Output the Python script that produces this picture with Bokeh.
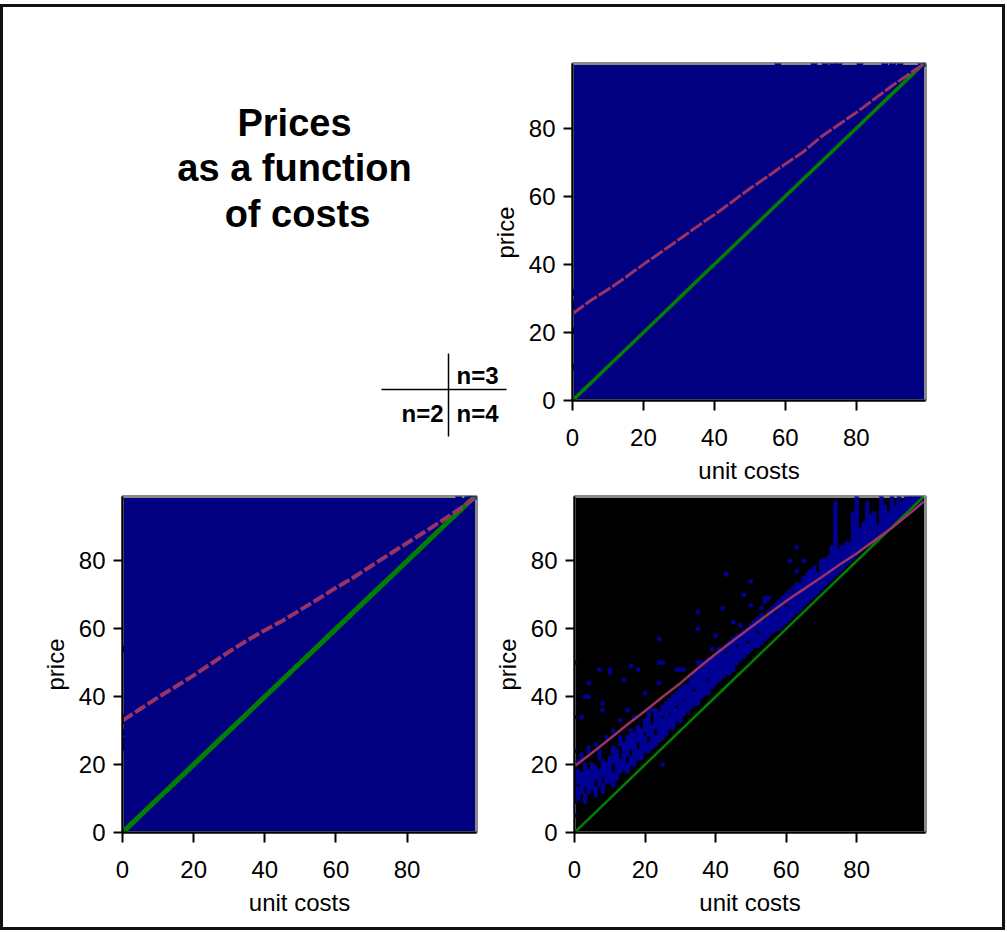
import math
from bokeh.plotting import figure
from bokeh.layouts import row, column
from bokeh.models import Range1d, FixedTicker, Spacer
from bokeh.core.properties import value
from bokeh.embed import file_html
from bokeh.resources import INLINE

FONT = "Liberation Sans"
NAVY = "#000080"
CELL = "#000094"
RED = "#993366"
GREEN = "#008000"

# ---------------- data ----------------
cost_pts = [0, 5, 10, 15, 20, 25, 30, 35, 40, 45, 50, 55, 60, 65, 70, 75, 80, 85, 90, 95, 99]
green_price = [0, 5, 10, 15, 20, 25, 30, 35, 40, 45, 50, 55, 60, 65, 70, 75, 80, 85, 90, 95, 99]
price_n3 = [25.5, 29.3, 32.6, 36.2, 40.0, 43.6, 47.3, 51.0, 54.6, 58.4, 62.3, 65.8, 69.5,
            73.0, 77.4, 81.0, 84.6, 88.5, 92.4, 96.0, 98.8]
price_n2 = [33.0, 36.4, 39.8, 43.0, 46.3, 49.8, 53.3, 56.6, 59.6, 62.4, 65.6, 68.8, 72.1,
            75.2, 78.6, 82.0, 85.3, 88.6, 92.0, 95.5, 98.5]
price_n4 = [19.5, 23.5, 27.6, 31.8, 35.8, 40.0, 44.0, 48.4, 52.6, 56.6, 60.5, 64.4, 68.2,
            71.7, 75.2, 78.8, 82.2, 86.0, 89.8, 94.0, 97.5]

n3_dot_cost = [57.9, 68.1, 71.2, 73.3, 75.1, 81.0, 88.0, 90.2, 92.3, 98.3, 99.3, 0, 0, 0, 0, 0]
n3_dot_price = [99, 99, 99, 99, 99, 99, 99, 99, 99, 99, 99, 31.7, 28.4, 27.7, 20.6, 9.8]
n2_dot_cost = [94.5, 97.0, 97.8, 98.6, 99.3, 0, 0, 0, 0, 0, 0]
n2_dot_price = [99, 99, 99, 99, 99, 54, 33.9, 32.9, 29.5, 27.1, 25.1]

# n=4: observed (cost, price) cells, given as vertical runs of cells per unit cost
n4_run_cost = [0, 0, 0, 0, 0, 1, 1, 1, 2, 2, 2, 3, 3, 3, 4, 4, 4, 4, 5, 6, 6, 6, 7, 7, 7,
               8, 8, 8, 8, 9, 9, 10, 10, 11, 11, 11, 12, 13, 13, 13, 14, 14, 15, 15, 15,
               16, 16, 16, 17, 17, 18, 18, 18, 19, 20, 20, 20, 21, 21, 22, 22, 23, 23,
               24, 24, 24, 24, 25, 25, 25, 25, 26, 27, 27, 28, 29, 29, 29, 30, 30, 31, 31,
               31, 32, 33, 34, 34, 35, 35, 35, 35, 36, 36, 37, 38, 38, 39, 39, 40, 40, 41,
               41, 42, 42, 43, 43, 43, 44, 45, 45, 46, 46, 47, 47, 48, 48, 49, 49, 50, 50,
               50, 51, 52, 52, 53, 53, 54, 54, 55, 55, 56, 57, 57, 58, 59, 60, 60, 61, 61,
               62, 62, 63, 63, 63, 64, 65, 65, 65, 66, 67, 67, 67, 68, 69, 70, 70, 71, 72,
               73, 73, 74, 74, 74, 75, 76, 77, 78, 79, 79, 80, 80, 81, 82, 82, 83, 83, 84,
               84, 85, 85, 86, 87, 87, 87, 88, 88, 89, 90, 90, 91, 91, 92, 92, 93, 94, 95,
               96, 97, 98, 99]
n4_run_lo = [5, 9, 24, 34, 50, 10, 15, 21, 12, 22, 34, 9, 14, 40, 12, 24, 40, 44, 13, 11, 16,
             26, 14, 22, 48, 12, 17, 36, 38, 15, 28, 15, 47, 14, 21, 30, 16, 18, 26, 33, 19,
             45, 18, 23, 36, 20, 25, 49, 20, 34, 22, 27, 48, 22, 24, 30, 41, 24, 29, 25, 36,
             26, 31, 27, 44, 50, 57, 20, 28, 35, 50, 29, 31, 36, 31, 33, 38, 48, 33, 48, 35,
             40, 48, 36, 37, 38, 43, 38, 50, 60, 65, 40, 50, 41, 41, 46, 43, 54, 44, 58, 45,
             54, 46, 66, 47, 54, 76, 47, 48, 62, 50, 56, 51, 61, 52, 70, 53, 57, 54, 67, 74,
             55, 55, 60, 56, 66, 57, 68, 58, 69, 59, 60, 66, 60, 61, 62, 68, 63, 80, 64, 72,
             65, 77, 84, 66, 67, 73, 80, 68, 69, 74, 77, 70, 71, 72, 78, 73, 74, 75, 84, 76,
             86, 97, 77, 78, 79, 80, 81, 94, 82, 99, 83, 84, 91, 85, 97, 86, 92, 87, 93, 88,
             88, 93, 99, 89, 96, 90, 91, 99, 92, 96, 93, 99, 94, 95, 96, 97, 97, 98, 99]
n4_run_hi = [5, 19, 24, 34, 50, 13, 18, 21, 17, 23, 34, 11, 20, 40, 18, 25, 40, 44, 20, 13, 19,
             26, 18, 24, 48, 14, 21, 36, 38, 20, 28, 22, 48, 17, 25, 30, 24, 21, 28, 33, 26,
             45, 20, 28, 36, 22, 30, 49, 29, 34, 24, 31, 48, 30, 28, 33, 41, 26, 35, 31, 36,
             28, 36, 35, 44, 50, 57, 20, 33, 37, 50, 38, 34, 39, 40, 36, 41, 48, 42, 48, 38,
             43, 48, 43, 45, 41, 47, 47, 50, 60, 65, 48, 50, 49, 44, 51, 51, 54, 52, 58, 53,
             54, 54, 66, 52, 55, 76, 56, 57, 62, 54, 58, 58, 61, 59, 70, 55, 60, 61, 67, 74,
             62, 58, 63, 64, 66, 62, 69, 65, 69, 66, 64, 67, 68, 69, 66, 70, 71, 80, 70, 72,
             73, 77, 84, 73, 71, 75, 80, 76, 74, 77, 77, 78, 76, 80, 80, 80, 81, 84, 81, 87,
             97, 82, 83, 84, 85, 85, 94, 87, 99, 88, 89, 91, 90, 97, 89, 93, 91, 94, 92, 90,
             94, 99, 92, 96, 93, 94, 99, 94, 96, 95, 99, 96, 97, 99, 99, 99, 99, 99]

x_ticks = [0, 20, 40, 60, 80]
y_ticks = [0, 20, 40, 60, 80]
x_title = "unit costs"
y_title = "price"
title_lines = ["Prices", "as a function", "of costs"]
key_labels = ["n=3", "n=2", "n=4"]

# expand n=4 runs into individual cells
n4_cell_cost, n4_cell_price = [], []
for c, lo, hi in zip(n4_run_cost, n4_run_lo, n4_run_hi):
    for v in range(lo, hi + 1):
        n4_cell_cost.append(c)
        n4_cell_price.append(v)


def panel(width, height, left, right, top, bottom, bg, ylabel=True):
    p = figure(width=width, height=height, x_range=Range1d(0, 99.5), y_range=Range1d(0, 99),
               output_backend="svg", toolbar_location=None,
               min_border_left=left, min_border_right=right,
               min_border_top=top, min_border_bottom=bottom)
    p.background_fill_color = bg
    p.border_fill_color = "white"
    p.outline_line_color = "#8a8a8a"
    p.outline_line_width = 3
    p.grid.visible = False
    p.xaxis.ticker = FixedTicker(ticks=x_ticks)
    p.yaxis.ticker = FixedTicker(ticks=y_ticks)
    for ax in (p.xaxis[0], p.yaxis[0]):
        ax.axis_line_color = "black"
        ax.axis_line_width = 2
        ax.major_tick_line_color = "black"
        ax.major_tick_line_width = 2
        ax.major_tick_in = 0
        ax.minor_tick_line_color = None
        ax.major_label_text_font = FONT
        ax.major_label_text_font_size = "24px"
        ax.major_label_text_color = "black"
        ax.axis_label_text_font = FONT
        ax.axis_label_text_font_size = "24px"
        ax.axis_label_text_font_style = "normal"
        ax.axis_label_text_color = "black"
    xa, ya = p.xaxis[0], p.yaxis[0]
    xa.major_tick_out = 10
    xa.major_label_standoff = 18
    xa.axis_label = x_title
    xa.axis_label_standoff = 8
    ya.major_tick_out = 9
    ya.major_label_standoff = 8
    ya.axis_label_standoff = 7
    if ylabel:
        ya.axis_label = y_title
    return p


# page geometry: left border bar 0..3, top 4..7; content x 3..1002, y 7..927
# ---------------- top-left: title and key (page coordinates) ----------------
tl = figure(width=517, height=487, x_range=Range1d(3, 520), y_range=Range1d(494, 7),
            output_backend="svg", toolbar_location=None,
            min_border_left=0, min_border_right=0, min_border_top=0, min_border_bottom=0)
tl.axis.visible = False
tl.grid.visible = False
tl.outline_line_color = None
tl.background_fill_color = "white"
tl.border_fill_color = "white"
tl.text(x=[294, 294, 297], y=[122, 167, 213], text=title_lines,
        text_font=value(FONT), text_font_size="38px", text_font_style="bold",
        text_align="center", text_baseline="middle", text_color="black")
tl.segment(x0=[381, 448], y0=[389, 353], x1=[506, 448], y1=[389, 436],
           line_color="black", line_width=1.5)
tl.text(x=[456, 443, 456], y=[375, 413, 413], text=key_labels,
        text_font=value(FONT), text_font_size="24px", text_font_style="bold",
        text_align=["left", "right", "left"], text_baseline="middle", text_color="black")
tl.text(x=[505], y=[232], text=[y_title], angle=math.pi / 2,
        text_font=value(FONT), text_font_size="24px",
        text_align="center", text_baseline="middle", text_color="black")

# ---------------- top-right: n=3 ----------------
tr = panel(482, 487, 52, 77, 56, 94, NAVY, ylabel=False)
tr.scatter(n3_dot_cost, n3_dot_price, size=6, color=NAVY)
tr.line(cost_pts, green_price, line_color=GREEN, line_width=3.5)
tr.line(cost_pts, price_n3, line_color=RED, line_width=3, line_dash="14 2")

# ---------------- bottom-left: n=2 ----------------
bl = panel(487, 433, 119, 14, 2, 95, NAVY)
bl.scatter(n2_dot_cost, n2_dot_price, size=6, color=NAVY)
bl.line(cost_pts, green_price, line_color=GREEN, line_width=5)
bl.line(cost_pts, price_n2, line_color=RED, line_width=4, line_dash="12 3")

# ---------------- bottom-right: n=4 ----------------
br = panel(512, 433, 82, 77, 2, 95, "black")
br.scatter(n4_cell_cost, n4_cell_price, marker="circle", size=4.9,
           fill_color=CELL, line_color=None)
br.line(cost_pts, green_price, line_color=GREEN, line_width=2.5)
br.line(cost_pts, price_n4, line_color=RED, line_width=2.5)


def bar(w, h):
    return Spacer(width=w, height=h, styles={"background-color": "#111111"})


content = column(row(column(tl), tr), row(bl, br))
layout = column(Spacer(width=1005, height=4),
                bar(1005, 3),
                row(bar(3, 920), content, bar(3, 920)),
                bar(1005, 3))

open("out.html", "w").write(file_html(layout, INLINE))
